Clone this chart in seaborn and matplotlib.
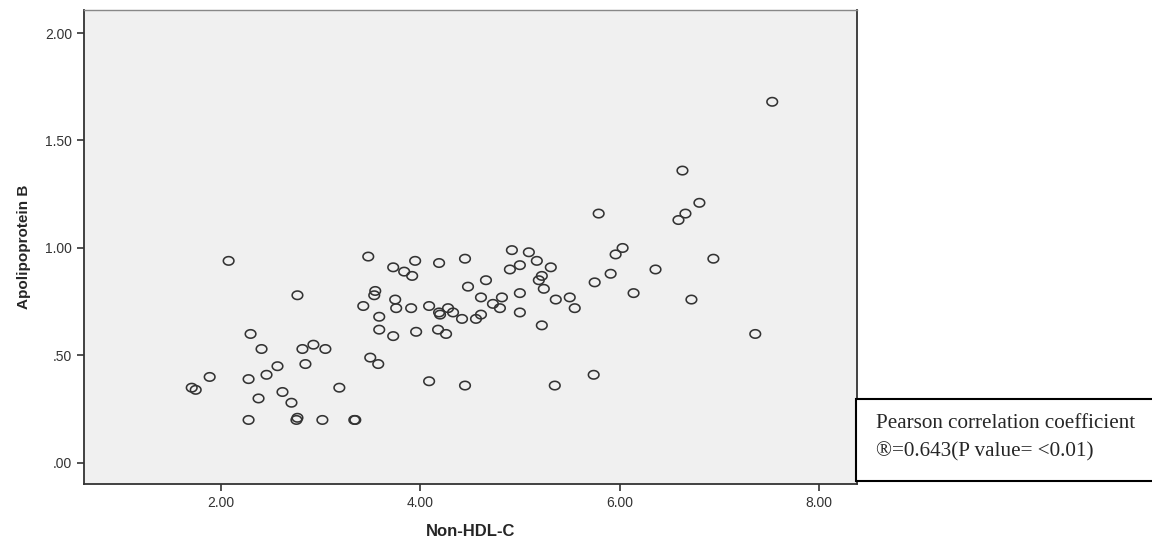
import matplotlib
matplotlib.use('Agg')
import matplotlib.pyplot as plt
import matplotlib.patches as patches
from matplotlib.path import Path
import numpy as np
import pandas as pd
import seaborn as sns

# Non-HDL-C values
non_hdl = [7.53, 6.63, 6.80, 6.66, 6.59, 5.79, 6.03, 5.96, 6.94, 6.36,
           5.91, 5.75, 6.14, 5.50, 5.55, 6.72, 7.36, 5.74,
           4.92, 5.09, 3.95, 3.73, 3.84, 3.92, 4.19, 4.45, 5.17, 5.00,
           4.90, 5.31, 5.22, 5.19, 4.66, 4.48, 5.24, 5.00, 3.75, 4.61,
           4.82, 5.36, 4.73, 3.76, 3.91, 4.09, 4.28, 4.80, 4.19, 4.20,
           4.33, 4.42, 4.56, 4.61, 5.00, 3.59, 5.22, 3.59, 3.73, 3.96,
           4.18, 4.26, 3.58, 4.09, 4.45, 5.35,
           2.08, 3.48, 2.77, 3.55, 3.54, 3.43, 2.30, 2.41, 2.82, 2.93,
           3.05, 2.57, 2.85, 3.50, 1.89, 2.28, 2.46, 1.71, 1.75, 2.38,
           2.62, 2.71, 3.19, 2.28, 2.76, 2.77, 3.02, 3.34, 3.35]

# Apolipoprotein B values
apo_b = [1.68, 1.36, 1.21, 1.16, 1.13, 1.16, 1.00, 0.97, 0.95, 0.90,
         0.88, 0.84, 0.79, 0.77, 0.72, 0.76, 0.60, 0.41,
         0.99, 0.98, 0.94, 0.91, 0.89, 0.87, 0.93, 0.95, 0.94, 0.92,
         0.90, 0.91, 0.87, 0.85, 0.85, 0.82, 0.81, 0.79, 0.76, 0.77,
         0.77, 0.76, 0.74, 0.72, 0.72, 0.73, 0.72, 0.72, 0.70, 0.69,
         0.70, 0.67, 0.67, 0.69, 0.70, 0.68, 0.64, 0.62, 0.59, 0.61,
         0.62, 0.60, 0.46, 0.38, 0.36, 0.36,
         0.94, 0.96, 0.78, 0.80, 0.78, 0.73, 0.60, 0.53, 0.53, 0.55,
         0.53, 0.45, 0.46, 0.49, 0.40, 0.39, 0.41, 0.35, 0.34, 0.30,
         0.33, 0.28, 0.35, 0.20, 0.20, 0.21, 0.20, 0.20, 0.20]

x_ticks = [2, 4, 6, 8]
x_labels = ['2.00', '4.00', '6.00', '8.00']
y_ticks = [0, 0.5, 1.0, 1.5, 2.0]
y_labels = ['.00', '.50', '1.00', '1.50', '2.00']

df = pd.DataFrame({'Non-HDL-C': non_hdl, 'Apolipoprotein B': apo_b})

sns.set_style('ticks')
plt.rcParams['font.family'] = ['Liberation Sans', 'DejaVu Sans']

# slightly wide open circle, like the source image
t = np.linspace(0, 2 * np.pi, 60)
ellipse = Path(np.column_stack([1.25 * np.cos(t), np.sin(t)]), closed=True)

fig = plt.figure(figsize=(11.52, 5.38), dpi=100)
ax = fig.add_axes([84/1152, 1 - 484/538, (857-84)/1152, (484-10)/538])
ax.set_facecolor('#f0f0f0')

sns.scatterplot(data=df, x='Non-HDL-C', y='Apolipoprotein B', ax=ax,
                marker=ellipse, s=58, facecolors='none', edgecolors='#333333',
                linewidth=1.15)

ax.set_xlim(0.63, 8.38)
ax.set_ylim(-0.098, 2.107)
ax.set_xticks(x_ticks)
ax.set_xticklabels(x_labels)
ax.set_yticks(y_ticks)
ax.set_yticklabels(y_labels)
ax.tick_params(direction='out', length=5, width=1.2, colors='#333333',
               labelsize=10, labelcolor='#333333')

for side in ['left', 'bottom', 'right']:
    ax.spines[side].set_color('#333333')
    ax.spines[side].set_linewidth(1.3)
ax.spines['top'].set_color('#888888')
ax.spines['top'].set_linewidth(1.0)
ax.spines['right'].set_visible(True)
ax.spines['top'].set_visible(True)

ax.set_xlabel('Non-HDL-C', fontsize=12, fontweight='bold', labelpad=10)
ax.set_ylabel('Apolipoprotein B', fontsize=11, fontweight='bold', labelpad=10)

# text box with the correlation
box = patches.Rectangle((856/1152, 1 - 481/538), 0.3, (481-399)/538,
                        transform=fig.transFigure, facecolor='white',
                        edgecolor='black', linewidth=1.5, zorder=5)
fig.patches.append(box)
fig.text(876/1152, 1 - 424/538, 'Pearson correlation coefficient',
         family='Liberation Serif', fontsize=15.2, va='center', zorder=6)
fig.text(876/1152, 1 - 452/538, '\u00ae=0.643(P value= <0.01)',
         family=['Liberation Serif', 'DejaVu Serif'], fontsize=15.2,
         va='center', zorder=6)

fig.savefig('out.png', dpi=100)
